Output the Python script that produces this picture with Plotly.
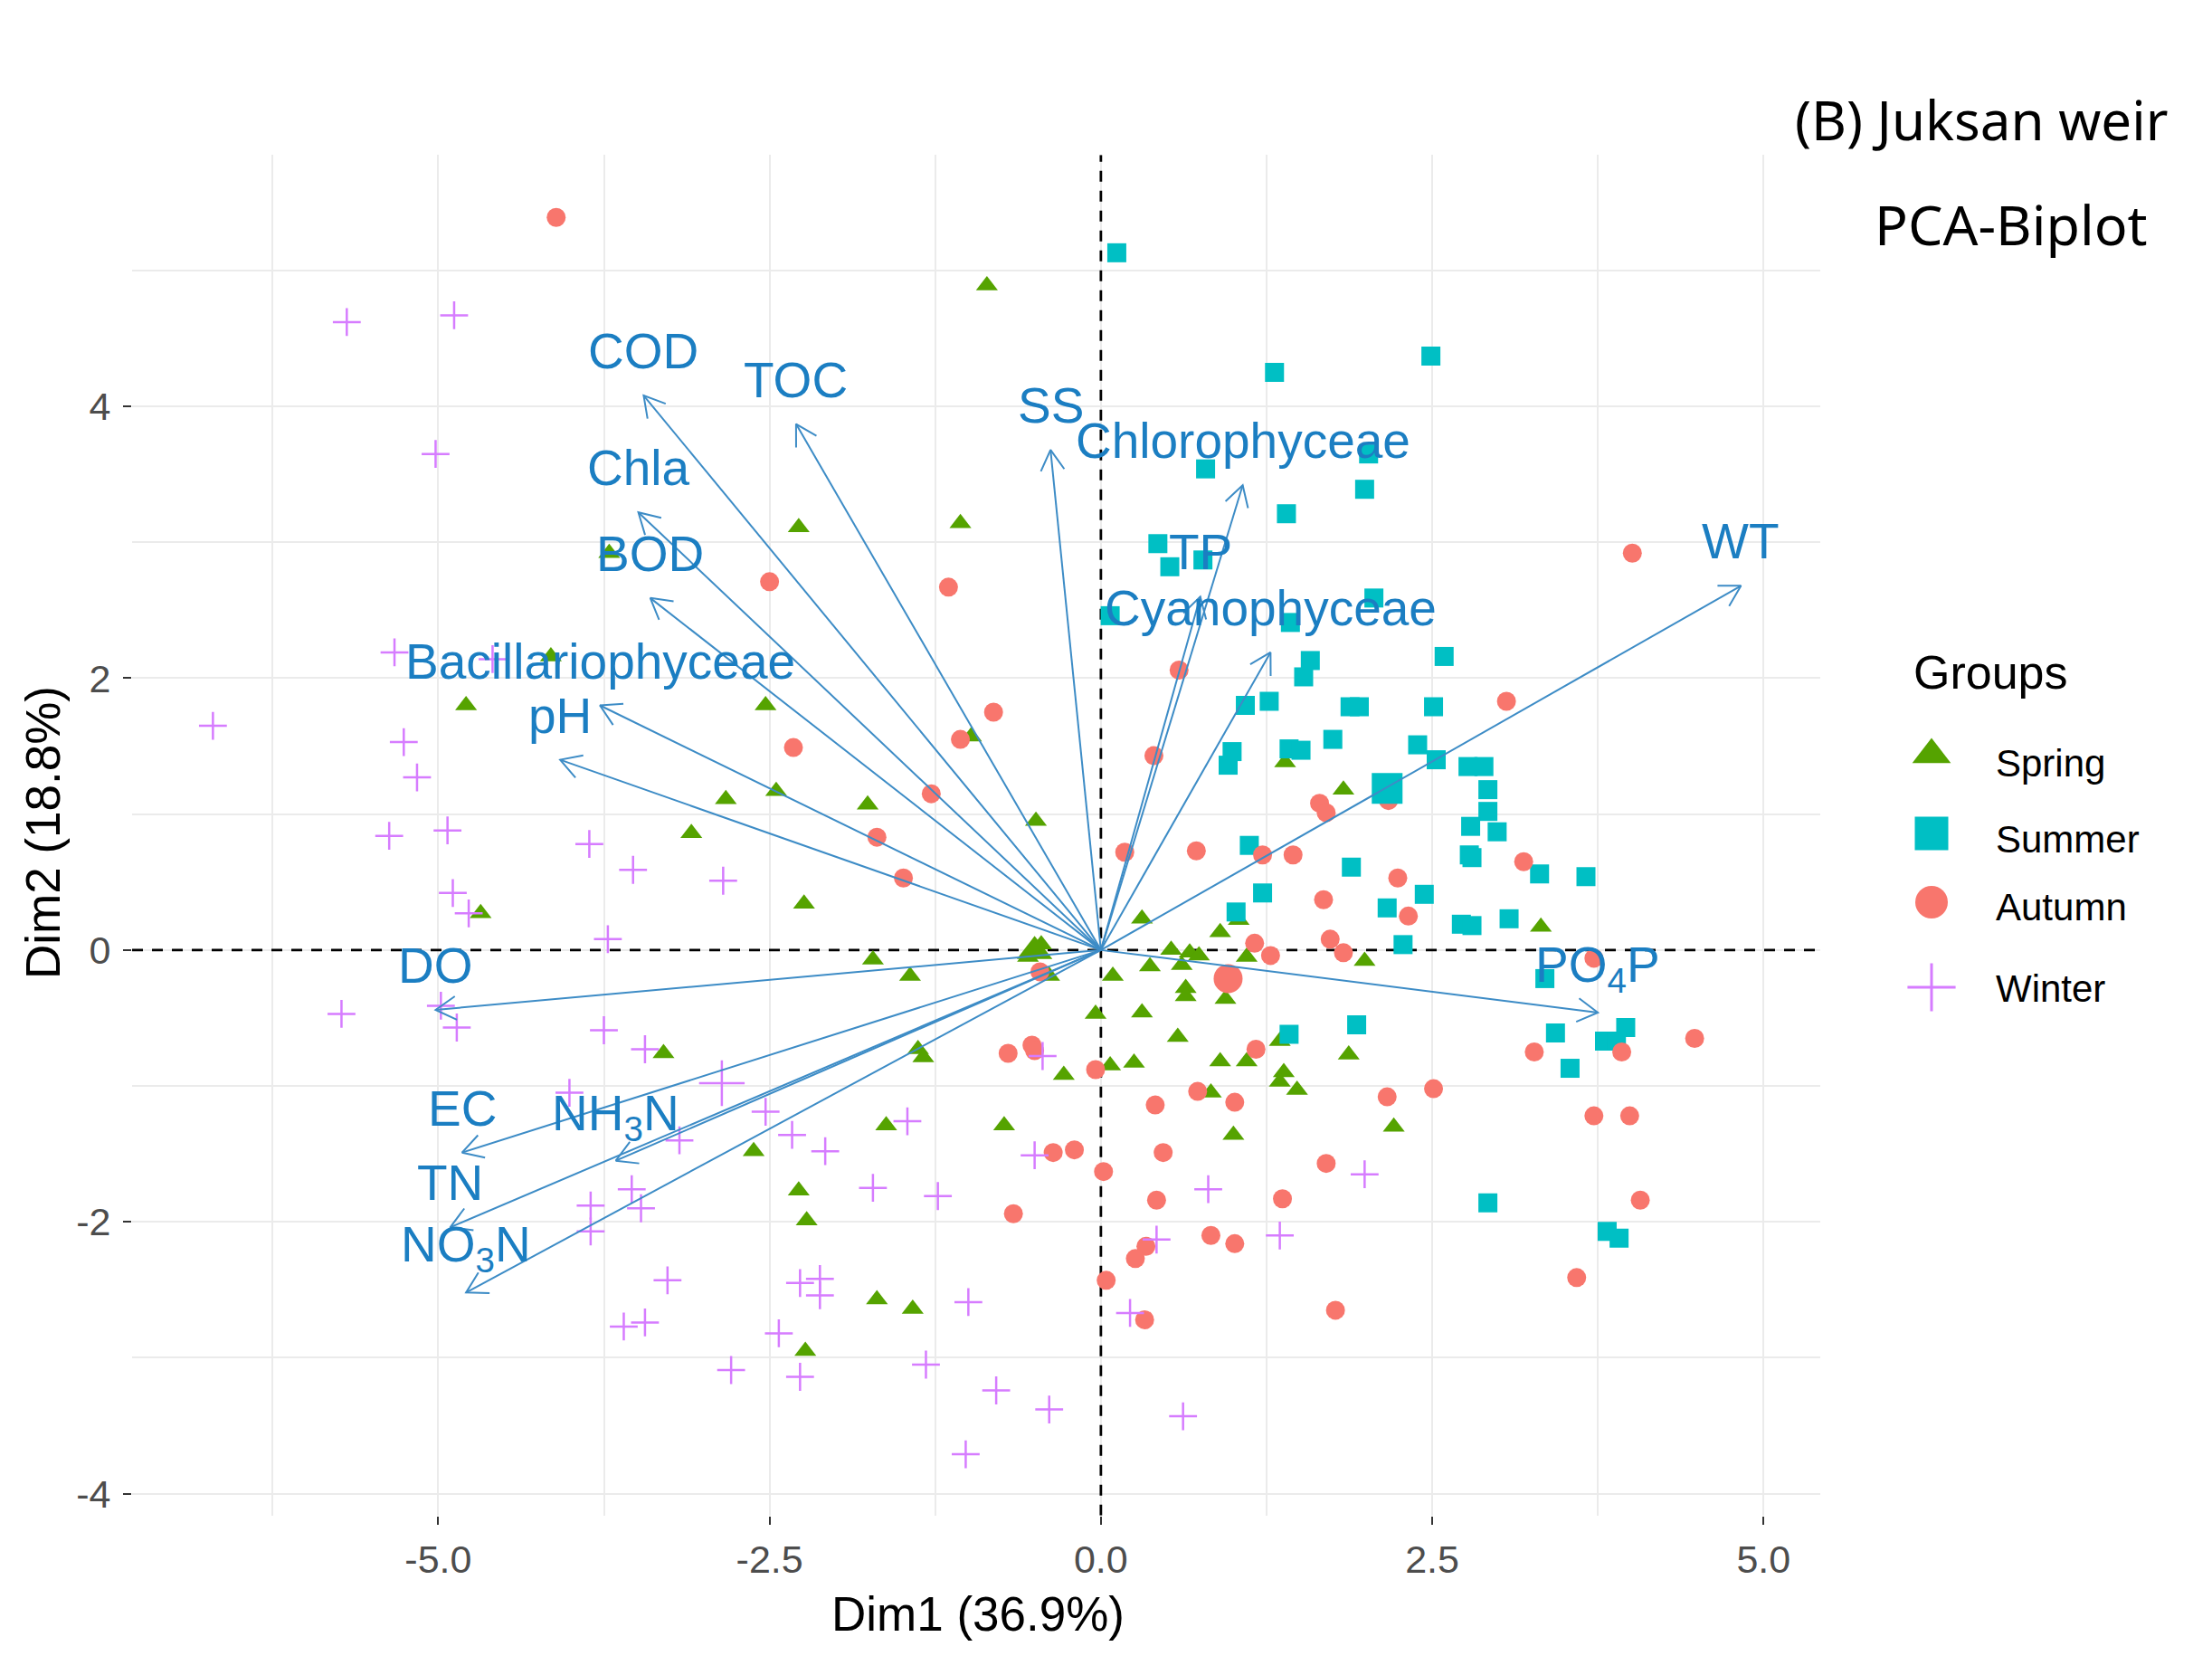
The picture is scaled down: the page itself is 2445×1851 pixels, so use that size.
import numpy as np
import plotly.graph_objects as go

# individual scores (Dim1, Dim2) per season
spring_x = [-0.86, -2.28, -1.06, -3.71, -4.15, -4.79, -2.53, -0.98, -2.83, -3.09,
            -2.45, -1.76, -0.49, 1.39, 1.83, -4.68, -2.24, 0.31, 0.90, 1.04,
            3.32, -1.72, -1.44, -0.39, -0.45, -0.55, 0.09, 0.37, 0.53, 0.67,
            0.74, 0.61, 0.64, 0.64, 1.10, 1.99, 0.94, -0.04, 0.31, 0.58,
            1.35, 1.87, -3.30, -1.38, -1.34, -0.28, 0.07, 0.25, 0.90, 1.10,
            1.38, 1.35, 1.48, 0.83, 1.00, 2.21, -2.62, -1.62, -0.73, -2.28,
            -2.22, -1.69, -1.42, -2.23]
spring_y = [4.89, 3.11, 3.14, 2.92, 2.16, 1.80, 1.80, 1.57, 1.11, 0.86,
            1.17, 1.07, 0.95, 1.38, 1.18, 0.27, 0.34, 0.23, 0.13, 0.22,
            0.17, -0.07, -0.19, -0.19, 0.04, -0.05, -0.19, -0.12, 0.00, -0.02,
            -0.04, -0.11, -0.28, -0.34, -0.05, -0.08, -0.36, -0.47, -0.46, -0.64,
            -0.67, -0.77, -0.76, -0.73, -0.79, -0.92, -0.85, -0.83, -0.82, -0.82,
            -0.90, -0.97, -1.03, -1.05, -1.36, -1.30, -1.48, -1.29, -1.29, -1.77,
            -1.99, -2.57, -2.64, -2.95]

summer_x = [0.12, 1.31, 2.49, 0.79, 1.40, 2.02, 1.99, 0.43, 0.52, 0.77,
            0.07, 1.43, 2.06, 1.58, 1.53, 2.59, 1.09, 1.27, 1.88, 1.95,
            2.51, 0.99, 0.96, 1.42, 1.51, 1.75, 2.39, 2.53, 2.77, 2.89,
            2.92, 2.92, 2.79, 2.99, 1.12, 2.78, 1.89, 2.80, 3.31, 3.66,
            1.22, 2.44, 1.02, 2.16, 2.72, 2.80, 3.08, 2.28, 3.35, 1.42,
            1.93, 3.43, 3.96, 3.80, 3.89, 3.54, 2.92, 3.82, 3.91]
summer_y = [5.13, 4.25, 4.37, 3.54, 3.21, 3.65, 3.39, 2.99, 2.82, 2.87,
            2.46, 2.41, 2.59, 2.13, 2.01, 2.16, 1.80, 1.83, 1.79, 1.79,
            1.79, 1.46, 1.36, 1.48, 1.47, 1.55, 1.51, 1.40, 1.35, 1.35,
            1.18, 1.02, 0.91, 0.87, 0.77, 0.70, 0.61, 0.68, 0.56, 0.54,
            0.42, 0.41, 0.28, 0.31, 0.19, 0.18, 0.23, 0.04, -0.21, -0.62,
            -0.55, -0.61, -0.57, -0.67, -0.67, -0.87, -1.86, -2.07, -2.12]

autumn_x = [-4.11, 4.01, -2.50, -1.15, 0.59, 3.06, -0.81, -2.32, -1.06, 0.40,
            -1.28, 1.65, 1.70, 2.17, -1.69, 0.18, 0.72, 1.22, 1.45, 3.19,
            -1.49, 2.24, 1.68, 2.32, 1.73, 1.83, 1.16, 1.28, 3.72, -0.46,
            1.17, -0.70, -0.52, -0.50, -0.04, 3.27, 3.93, 4.48, 0.73, 0.41,
            1.01, 2.51, 2.16, 3.72, 3.99, -0.36, -0.20, 0.02, 0.47, 1.70,
            -0.66, 0.42, 1.37, 4.07, 0.83, 1.01, 0.34, 0.26, 0.04, 0.33,
            3.59, 1.77]
autumn_y = [5.39, 2.92, 2.71, 2.67, 2.06, 1.83, 1.75, 1.49, 1.55, 1.43,
            1.15, 1.08, 1.01, 1.10, 0.83, 0.72, 0.73, 0.70, 0.70, 0.65,
            0.53, 0.53, 0.37, 0.25, 0.08, -0.02, 0.05, -0.04, -0.06, -0.16,
            -0.73, -0.76, -0.70, -0.74, -0.88, -0.75, -0.75, -0.65, -1.04, -1.14,
            -1.12, -1.02, -1.08, -1.22, -1.22, -1.49, -1.47, -1.63, -1.49, -1.57,
            -1.94, -1.84, -1.83, -1.84, -2.10, -2.16, -2.18, -2.27, -2.43, -2.72,
            -2.41, -2.65]

winter_x = [-5.69, -4.88, -5.02, -5.33, -4.59, -6.70, -5.26, -5.16, -5.37, -4.93,
            -3.86, -3.53, -2.85, -4.89, -4.77, -3.72, -5.73, -4.98, -4.86, -3.75,
            -3.44, -4.01, -3.18, -2.53, -2.33, -2.08, -1.46, -0.44, -0.50, -3.54,
            -3.47, -3.85, -3.85, -1.72, -1.23, 0.81, 1.35, 1.99, 0.42, -3.27,
            -2.27, -2.12, -2.12, -1.00, -3.60, -3.44, -2.43, -2.79, -2.27, -1.32,
            -0.79, -0.39, 0.22, 0.62, -1.02]
winter_y = [4.62, 4.67, 3.65, 2.19, 2.14, 1.65, 1.53, 1.27, 0.84, 0.88,
            0.78, 0.59, 0.51, 0.42, 0.27, 0.08, -0.47, -0.41, -0.57, -0.59,
            -0.73, -1.05, -1.40, -1.19, -1.36, -1.48, -1.26, -0.78, -1.51, -1.76,
            -1.90, -1.88, -2.07, -1.75, -1.81, -1.76, -2.10, -1.65, -2.13, -2.43,
            -2.45, -2.42, -2.54, -2.59, -2.77, -2.74, -2.82, -3.09, -3.14, -3.05,
            -3.24, -3.38, -2.67, -3.43, -3.71]

group_names = ["Spring", "Summer", "Autumn", "Winter"]
group_mean_x = [-0.50, 2.16, 0.96, -2.86]
group_mean_y = [-0.01, 1.19, -0.21, -0.98]

# variable loadings (arrow tips)
var_names = ["COD", "TOC", "SS", "Chla", "BOD", "Bacillariophyceae", "pH",
             "Chlorophyceae", "TP", "Cyanophyceae", "WT", "PO<sub>4</sub>P",
             "DO", "EC", "NH<sub>3</sub>N", "TN", "NO<sub>3</sub>N"]
var_x = [-3.45, -2.30, -0.38, -3.49, -3.40, -3.78, -4.08,
         1.07, 0.75, 1.28, 4.83, 3.75,
         -5.02, -4.82, -3.66, -4.91, -4.79]
var_y = [4.08, 3.87, 3.68, 3.22, 2.59, 1.80, 1.40,
         3.42, 2.60, 2.19, 2.68, -0.46,
         -0.44, -1.49, -1.55, -2.04, -2.52]

x_tick_vals = [-5.0, -2.5, 0.0, 2.5, 5.0]
x_tick_text = ["-5.0", "-2.5", "0.0", "2.5", "5.0"]
y_tick_vals = [-4, -2, 0, 2, 4]
y_tick_text = ["-4", "-2", "0", "2", "4"]

# figure is drawn inside the page body (8px default margin), so size it to fit
W, H = 2429, 1835
x_dom = [138.0 / W, 2004.3 / W]
y_dom = [(H - 1666.7) / H, (H - 163.2) / H]
x_rng = [-7.31, 5.43]
y_rng = [-4.16, 5.85]
sx = (x_dom[1] - x_dom[0]) * W / (x_rng[1] - x_rng[0])
sy = (y_dom[1] - y_dom[0]) * H / (y_rng[1] - y_rng[0])

colors = {"Spring": "#55A300", "Summer": "#00BFC4", "Autumn": "#F8766D", "Winter": "#D67CFF"}
symbols = {"Spring": "triangle-up", "Summer": "square", "Autumn": "circle", "Winter": "cross-thin"}
sizes = {"Spring": 21, "Summer": 21, "Autumn": 21, "Winter": 22}
mean_sizes = {"Spring": 34, "Summer": 34, "Autumn": 32, "Winter": 36}
arrow_col = "#3D8CC6"
label_col = "#1B7EC2"
font = "Liberation Sans, Arial, sans-serif"

data = {
    "Spring": (spring_x, spring_y),
    "Summer": (summer_x, summer_y),
    "Autumn": (autumn_x, autumn_y),
    "Winter": (winter_x, winter_y),
}


def marker_for(g, size):
    m = dict(symbol=symbols[g], size=size, color=colors[g])
    if g == "Winter":
        m["line"] = dict(color=colors[g], width=2.5)
    else:
        m["line"] = dict(width=0)
    return m


fig = go.Figure()

# dashed reference lines through the origin
dash_line = dict(color="black", width=2.8, dash="12px,10px")
fig.add_trace(go.Scatter(x=x_rng, y=[0, 0], mode="lines", line=dash_line,
                         showlegend=False, hoverinfo="skip"))
fig.add_trace(go.Scatter(x=[0, 0], y=y_rng, mode="lines", line=dash_line,
                         showlegend=False, hoverinfo="skip"))

for g in group_names:
    xs, ys = data[g]
    fig.add_trace(go.Scatter(x=xs, y=ys, mode="markers", name=g,
                             marker=marker_for(g, sizes[g]), showlegend=False))

for i, g in enumerate(group_names):
    fig.add_trace(go.Scatter(x=[group_mean_x[i]], y=[group_mean_y[i]], mode="markers",
                             marker=marker_for(g, mean_sizes[g]), showlegend=False))


# arrows from origin, open heads like grid::arrow
def arrow_xy(tx, ty, head=26, ang=np.radians(30)):
    ux, uy = -tx * sx, -ty * sy
    n = np.hypot(ux, uy)
    ux, uy = ux / n, uy / n
    xs = [0, tx, None]
    ys = [0, ty, None]
    pts = []
    for a in (ang, -ang):
        rx = ux * np.cos(a) - uy * np.sin(a)
        ry = ux * np.sin(a) + uy * np.cos(a)
        pts.append((tx + head * rx / sx, ty + head * ry / sy))
    xs += [pts[0][0], tx, pts[1][0], None]
    ys += [pts[0][1], ty, pts[1][1], None]
    return xs, ys


ax_all, ay_all = [], []
for tx, ty in zip(var_x, var_y):
    a, b = arrow_xy(tx, ty)
    ax_all += a
    ay_all += b
fig.add_trace(go.Scatter(x=ax_all, y=ay_all, mode="lines",
                         line=dict(color=arrow_col, width=2), showlegend=False,
                         hoverinfo="skip"))

for name, tx, ty in zip(var_names, var_x, var_y):
    fig.add_annotation(x=tx, y=ty, text=name, showarrow=False, yshift=49,
                       xanchor="center", yanchor="middle",
                       font=dict(family=font, size=55, color=label_col))

# hand-made legend on a helper axis in pixel units
leg_dom = [0.83, 1.0]
leg_y_mark = [826, 913, 989, 1083]
leg_y_text = [835, 919, 994, 1084]
leg_sizes = {"Spring": 37, "Summer": 37, "Autumn": 36, "Winter": 38}
for i, g in enumerate(group_names):
    m = marker_for(g, leg_sizes[g])
    if g == "Winter":
        m["line"]["width"] = 3
    fig.add_trace(go.Scatter(x=[2127], y=[leg_y_mark[i]], mode="markers", marker=m,
                             xaxis="x2", yaxis="y2", showlegend=False, hoverinfo="skip"))
    fig.add_annotation(x=2196, y=leg_y_text[i], xref="x2", yref="y2", text=g,
                       showarrow=False, xanchor="left", yanchor="middle",
                       font=dict(family=font, size=42, color="black"))
fig.add_annotation(x=2105, y=735, xref="x2", yref="y2", text="Groups",
                   showarrow=False, xanchor="left", yanchor="middle",
                   font=dict(family=font, size=52, color="black"))

# titles
fig.add_annotation(x=2390 / W, y=1 - 124 / H, xref="paper", yref="paper",
                   text="(B) Juksan weir", showarrow=False, xanchor="right", yanchor="middle",
                   font=dict(family="Noto Sans", size=60, color="black"))
fig.add_annotation(x=2368 / W, y=1 - 240 / H, xref="paper", yref="paper",
                   text="PCA-Biplot", showarrow=False, xanchor="right", yanchor="middle",
                   font=dict(family="Noto Sans", size=61, color="black"))

# axis titles
fig.add_annotation(x=1073 / W, y=1 - 1775 / H, xref="paper", yref="paper",
                   text="Dim1 (36.9%)", showarrow=False, xanchor="center", yanchor="middle",
                   font=dict(family=font, size=53, color="black"))
fig.add_annotation(x=39 / W, y=1 - 912 / H, xref="paper", yref="paper",
                   text="Dim2 (18.8%)", showarrow=False, textangle=-90,
                   xanchor="center", yanchor="middle",
                   font=dict(family=font, size=53, color="black"))

grid = "#EBEBEB"
fig.update_layout(
    width=W, height=H,
    margin=dict(l=0, r=0, t=0, b=0),
    paper_bgcolor="white", plot_bgcolor="white",
    showlegend=False,
    xaxis=dict(domain=x_dom, range=x_rng, tickvals=x_tick_vals, ticktext=x_tick_text,
               showgrid=True, gridcolor=grid, gridwidth=2.2, zeroline=False,
               showline=False, ticks="outside", ticklen=9, tickwidth=2,
               tickcolor="#333333", ticklabelstandoff=2, automargin=False,
               tickfont=dict(family=font, size=43, color="#4D4D4D"),
               minor=dict(dtick=1.25, tick0=0, showgrid=True, gridcolor=grid, gridwidth=1.6)),
    yaxis=dict(domain=y_dom, range=y_rng, tickvals=y_tick_vals, ticktext=y_tick_text,
               showgrid=True, gridcolor=grid, gridwidth=2.2, zeroline=False,
               showline=False, ticks="outside", ticklen=9, tickwidth=2,
               tickcolor="#333333", ticklabelstandoff=5, automargin=False,
               tickfont=dict(family=font, size=43, color="#4D4D4D"),
               minor=dict(dtick=1, tick0=0, showgrid=True, gridcolor=grid, gridwidth=1.6)),
    xaxis2=dict(domain=leg_dom, range=[leg_dom[0] * W, leg_dom[1] * W], visible=False,
                fixedrange=True),
    yaxis2=dict(domain=[0, 1], range=[H, 0], visible=False, fixedrange=True,
                anchor="x2"),
)

fig.write_html("out.html")
